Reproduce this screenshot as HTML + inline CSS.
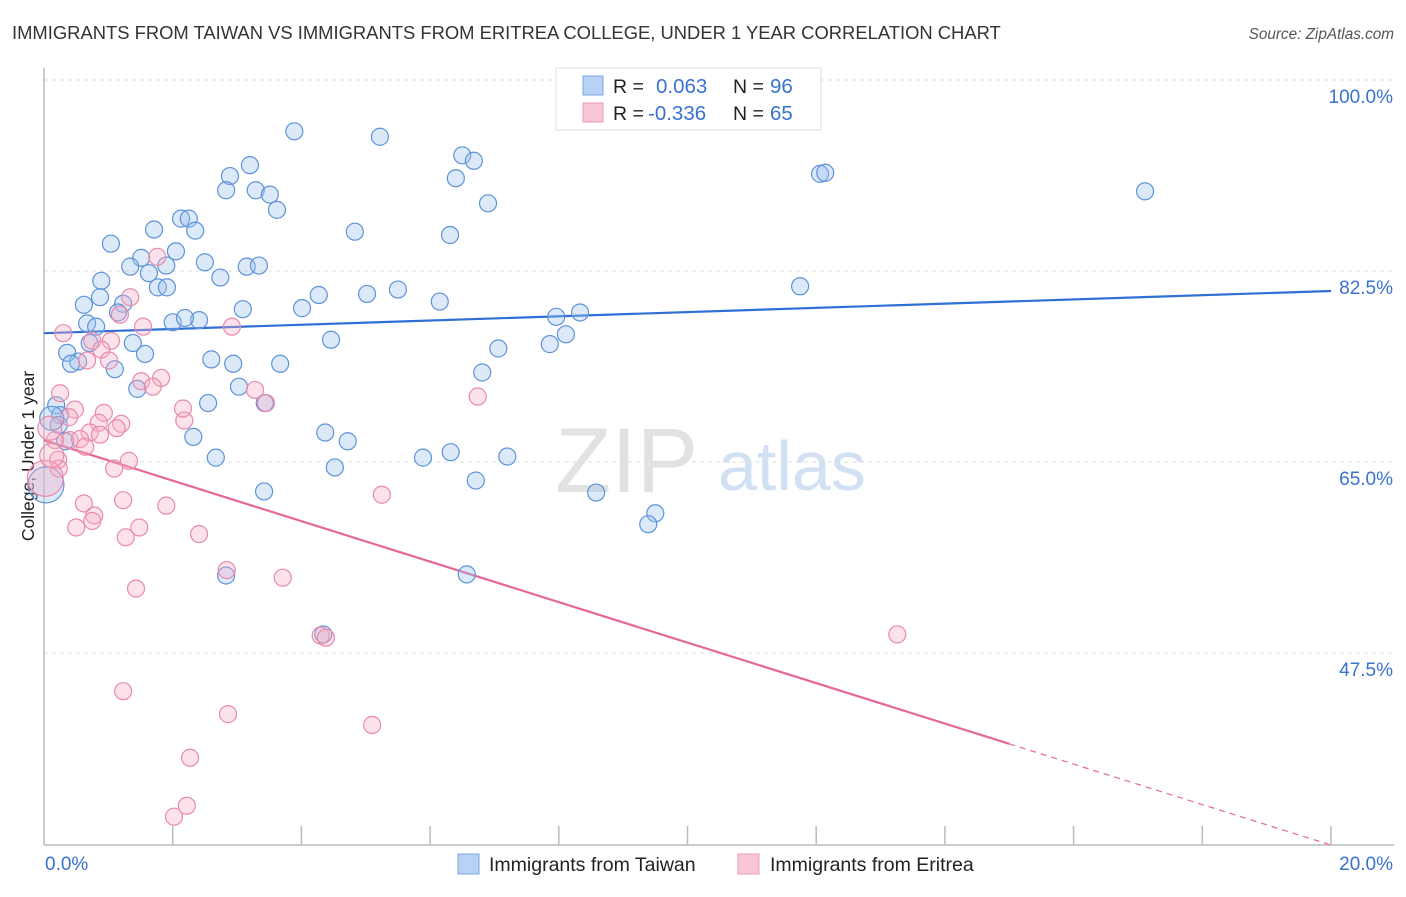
<!DOCTYPE html>
<html><head><meta charset="utf-8"><style>
body{margin:0;background:#fff;font-family:"Liberation Sans",sans-serif}
svg text{font-family:"Liberation Sans",sans-serif}
</style></head><body>
<svg id="chart" width="1406" height="892" xmlns="http://www.w3.org/2000/svg">
<text x="12" y="39" font-size="18.4" fill="#333">IMMIGRANTS FROM TAIWAN VS IMMIGRANTS FROM ERITREA COLLEGE, UNDER 1 YEAR CORRELATION CHART</text>
<text x="1394" y="39" font-size="15.3" fill="#555" text-anchor="end" font-style="italic">Source: ZipAtlas.com</text>
<text transform="translate(34,456) rotate(-90)" font-size="17.5" fill="#222" text-anchor="middle">College, Under 1 year</text>
<g>
<text x="555" y="492" font-size="92" font-family="Liberation Serif,serif" fill="#d6d6d6" opacity="0.7">ZIP</text>
<text x="718" y="490" font-size="70" fill="#b5cdee" opacity="0.6">atlas</text>
</g>
<g id="grid"></g><g id="axes"></g><g id="trend"></g><g id="pts"></g>
<g>
<rect x="556" y="68" width="265" height="62" fill="#fff" stroke="#ddd"/>
<rect x="583" y="76" width="20" height="19" fill="#b7d2f5" stroke="#7aa6e0"/>
<rect x="583" y="103" width="20" height="19" fill="#f8c6d6" stroke="#ec9bb6"/>
<text x="613" y="93" font-size="19.5" fill="#222">R =</text><text x="656" y="93" font-size="20.5" fill="#3a72d0">0.063</text>
<text x="733" y="93" font-size="19.5" fill="#222">N =</text><text x="770" y="93" font-size="20.5" fill="#3a72d0">96</text>
<text x="613" y="120" font-size="19.5" fill="#222">R =</text><text x="648" y="120" font-size="20.5" fill="#3a72d0">-0.336</text>
<text x="733" y="120" font-size="19.5" fill="#222">N =</text><text x="770" y="120" font-size="20.5" fill="#3a72d0">65</text>
</g>
<g>
<rect x="458" y="854" width="21" height="20" fill="#b7d2f5" stroke="#7aa6e0"/>
<text x="489" y="871" font-size="19.5" fill="#222">Immigrants from Taiwan</text>
<rect x="738" y="854" width="21" height="20" fill="#f8c6d6" stroke="#ec9bb6"/>
<text x="770" y="871" font-size="19.5" fill="#222">Immigrants from Eritrea</text>
</g>
</svg>
<script>
const yTicks=[100,82.5,65,47.5];
const xTickLabels=["0.0%","20.0%"];
const blueX=[3.89,5.22,6.50,6.68,6.40,3.20,2.89,2.83,3.29,3.51,3.62,6.90,12.06,12.14,17.11,2.13,2.25,2.35,1.71,1.04,2.05,1.51,1.34,1.63,1.90,2.50,3.15,3.34,2.74,4.83,6.31,1.77,1.91,0.89,0.62,0.87,1.23,1.15,0.67,0.81,2.00,2.41,2.19,3.09,4.01,4.27,5.02,5.50,6.15,7.96,8.33,11.75,8.11,7.86,7.06,4.46,0.71,1.38,1.57,0.36,0.53,0.42,1.10,2.60,2.94,3.67,6.81,1.45,3.03,2.55,3.43,0.19,0.25,0.23,2.32,4.37,4.72,0.33,2.67,5.89,6.32,7.20,4.52,3.42,6.71,8.58,9.50,9.39,6.57,2.83,4.34,0.03,0.12];
const blueY=[95.3,94.8,93.1,92.6,91.0,92.2,91.2,89.9,89.9,89.5,88.1,88.7,91.4,91.5,89.8,87.3,87.3,86.2,86.3,85.0,84.3,83.7,82.9,82.3,83.0,83.3,82.9,83.0,81.9,86.1,85.8,81.0,81.0,81.6,79.4,80.1,79.5,78.7,77.7,77.4,77.8,78.0,78.2,79.0,79.1,80.3,80.4,80.8,79.7,78.3,78.7,81.1,76.7,75.8,75.4,76.2,75.9,75.9,74.9,75.0,74.2,74.0,73.5,74.4,74.0,74.0,73.2,71.7,71.9,70.4,70.4,70.2,69.3,68.4,67.3,67.7,66.9,66.9,65.4,65.4,65.9,65.5,64.5,62.3,63.3,62.2,60.3,59.3,54.7,54.6,49.2,62.9,69.0];
const pinkX=[1.34,1.18,1.54,0.30,0.75,0.67,1.04,0.89,1.01,1.76,1.82,1.51,1.69,0.25,2.18,2.16,2.92,3.28,3.45,6.74,0.93,0.48,0.39,0.85,1.20,1.13,0.71,0.87,0.40,0.56,0.64,0.17,0.22,0.23,1.32,1.09,1.23,0.62,1.90,0.78,0.75,0.50,1.48,1.27,2.41,5.25,2.84,3.71,1.43,4.30,4.38,13.26,1.23,2.86,5.10,2.27,2.22,2.02,0.02,0.12,0.09];
const pinkY=[80.1,78.5,77.4,76.8,76.1,74.3,76.1,75.3,74.3,83.8,72.7,72.4,71.9,71.3,68.8,69.9,77.4,71.6,70.4,71.0,69.5,69.8,69.1,68.6,68.5,68.1,67.7,67.5,67.0,67.1,66.4,67.0,65.2,64.4,65.1,64.4,61.5,61.2,61.0,60.1,59.6,59.0,59.0,58.1,58.4,62.0,55.1,54.4,53.4,49.1,48.9,49.2,44.0,41.9,40.9,37.9,33.5,32.5,63.5,65.6,68.1];
const blueTrend=[76.8,80.67];
const pinkTrend=[67.0,29.9];
const pinkSolidEnd=15;
const NS="http://www.w3.org/2000/svg";
const X=v=>44+v*64.35, Y=v=>80+(100-v)*10.914;
function mk(t,a,p){const e=document.createElementNS(NS,t);for(const k in a)e.setAttribute(k,a[k]);p.appendChild(e);return e;}
const grid=document.getElementById('grid');
yTicks.forEach(t=>{
 const l=mk('line',{x1:44,x2:1394,y1:Y(t),y2:Y(t),stroke:'#ddd','stroke-dasharray':'4,4'},grid);
 
 
 const tx=mk('text',{x:1393,y:Y(t)+23,'font-size':19,fill:'#3a72d0','text-anchor':'end'},grid);
 tx.textContent=t.toFixed(1)+'%';
 
 
});
const axes=document.getElementById('axes');
const ya=mk('line',{x1:44,x2:44,y1:68,y2:845,stroke:'#bbb','stroke-width':1.5},axes);


const xa=mk('line',{x1:44,x2:1394,y1:845,y2:845,stroke:'#bbb','stroke-width':1.5},axes);


for(let i=1;i<=10;i++){const tk=mk('line',{x1:X(i*2),x2:X(i*2),y1:826,y2:845,stroke:'#bbb','stroke-width':1.5},axes);
 
 }
const xl0=mk('text',{x:45,y:870,'font-size':19,fill:'#3a72d0'},axes);xl0.textContent=xTickLabels[0];


const xl1=mk('text',{x:1393,y:870,'font-size':19,fill:'#3a72d0','text-anchor':'end'},axes);xl1.textContent=xTickLabels[1];


const pts=document.getElementById('pts');
function dots(xs,ys,fill,stroke,name){xs.forEach((x,i)=>{
 const r=(x<0.05)?18:(x<0.15&&i>=xs.length-3?12:8.5);
 const c=mk('circle',{cx:X(x),cy:Y(ys[i]),r:r,fill:fill,'fill-opacity':0.35,stroke:stroke,'stroke-width':1.2},pts);
 
 
});}
dots(blueX,blueY,'#9cc0ef','#5d93d8','taiwan-point');
dots(pinkX,pinkY,'#f6aec6','#e88aab','eritrea-point');
const tr=document.getElementById('trend');
const bl=mk('line',{x1:X(0),y1:Y(blueTrend[0]),x2:X(20),y2:Y(blueTrend[1]),stroke:'#2f6fd6','stroke-width':2.2},tr);


const pAt=x=>pinkTrend[0]+(pinkTrend[1]-pinkTrend[0])*x/20;
const pl=mk('line',{x1:X(0),y1:Y(pAt(0)),x2:X(pinkSolidEnd),y2:Y(pAt(pinkSolidEnd)),stroke:'#e5689a','stroke-width':2.2},tr);


const pd=mk('line',{x1:X(pinkSolidEnd),y1:Y(pAt(pinkSolidEnd)),x2:X(20),y2:Y(pAt(20)),stroke:'#e5689a','stroke-width':1.2,'stroke-dasharray':'6,5'},tr);


</script>
</body></html>
